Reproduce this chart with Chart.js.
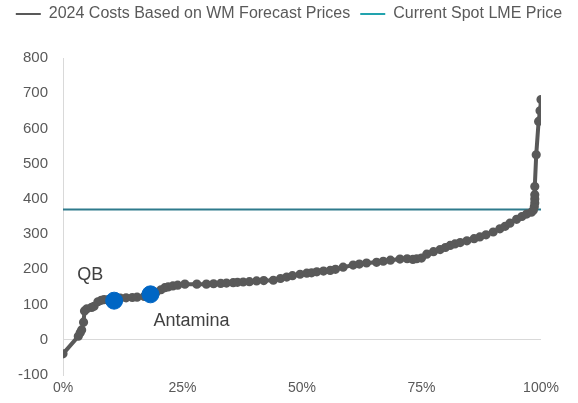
<!DOCTYPE html>
<html>
<head>
<meta charset="utf-8">
<script src="https://cdn.jsdelivr.net/npm/chart.js@4.4.1/dist/chart.umd.min.js"></script>
<style>
  html, body { margin: 0; padding: 0; background: #ffffff; }
  #wrap { width: 578px; height: 403px; }
</style>
</head>
<body>
<div id="wrap"><canvas id="chart" width="578" height="403"></canvas></div>
<script>
// Cost curve: cumulative share of production (%) against 2024 cost
const cumulativeShare = [
  0, 3.2, 3.6, 3.9, 4.3, 4.5, 5.0, 6.0, 6.5, 7.3, 8.0, 8.6, 9.5, 10.7, 12.0, 13.2, 14.5, 15.5, 17.0, 18.3,
  19.5, 20.5, 21.3, 22.0, 23.0, 24.0, 25.5, 28.0, 30.0, 31.5, 33.0, 34.2, 35.6, 36.5, 37.7, 39.0, 40.5, 42.0,
  44.0, 45.5, 46.8, 48.0, 49.6, 51.0, 52.0, 53.1, 54.5, 55.9, 57.0, 58.6, 60.7, 62.0, 63.5, 65.6, 67.0, 68.5,
  70.5, 72.0, 73.2, 74.0, 75.0, 76.1, 77.5, 78.9, 80.0, 81.0, 82.0, 83.1, 84.5, 86.0, 87.2, 88.5, 90.0, 91.4,
  92.5, 93.5, 94.9, 96.0, 97.0, 98.0, 98.4, 98.6, 98.7, 98.7, 98.7, 98.7, 99.0, 99.5, 99.8, 100
];
const costs = [
  -40, 10, 20, 28, 50, 82, 88, 92, 95, 108, 112, 114, 114, 111, 118, 119, 120, 121, 123, 129,
  135, 142, 148, 150, 153, 155, 158, 158, 158, 159, 160, 161, 162, 163, 164, 165, 167, 168,
  169, 174, 178, 182, 186, 189, 190, 193, 195, 197, 200, 206, 212, 215, 218, 220, 223, 226,
  229, 230, 228, 230, 232, 243, 250, 256, 262, 268, 272, 276, 281, 287, 292, 298, 306, 315,
  322, 331, 342, 350, 357, 362, 368, 378, 388, 400, 412, 435, 525, 620, 650, 682
];

// Current spot LME price
const spotPrice = 370;

// Highlighted operations
const mineNames = ['QB', 'Antamina'];
const mineShare = [10.7, 18.3];
const mineCost = [111, 129];

// Axis ranges and tick labels
const yMin = -100, yMax = 800, yStep = 100;
const xTickValues = [0, 25, 50, 75, 100];
const xTickLabels = ['0%', '25%', '50%', '75%', '100%'];

const curveColor = '#595959';
const spotColor = '#2E7A8C';
const spotLegendColor = '#22A3AE';
const mineColor = '#0066C4';
const textColor = '#595959';
const axisColor = '#D9D9D9';
const fontFamily = '"Liberation Sans", Arial, sans-serif';

const curvePoints = cumulativeShare.map((x, i) => ({ x: x, y: costs[i] }));
const spotPoints = [{ x: 0, y: spotPrice }, { x: 100, y: spotPrice }];
const minePoints = mineShare.map((x, i) => ({ x: x, y: mineCost[i], name: mineNames[i] }));

// Writes the operation names next to their markers
const mineLabels = {
  id: 'mineLabels',
  afterDatasetsDraw(chart) {
    const meta = chart.getDatasetMeta(2);
    const ctx = chart.ctx;
    ctx.save();
    ctx.font = '18px ' + fontFamily;
    ctx.fillStyle = '#404040';
    ctx.textBaseline = 'middle';
    meta.data.forEach((pt, i) => {
      const name = minePoints[i].name;
      if (i === 0) {
        ctx.textAlign = 'center';
        ctx.fillText(name, pt.x - 24, pt.y - 26);
      } else {
        ctx.textAlign = 'left';
        ctx.fillText(name, pt.x + 3, pt.y + 27);
      }
    });
    ctx.restore();
  }
};

// Fixed legend band above the plot
const legendBand = {
  id: 'legendBand',
  beforeInit(chart) {
    const legend = chart.legend;
    if (!legend) return;
    const fit = legend.fit;
    legend.fit = function () {
      fit.call(this);
      this.height = 62;
    };
  }
};

new Chart(document.getElementById('chart'), {
  type: 'scatter',
  data: {
    datasets: [
      {
        label: '2024 Costs Based on WM Forecast Prices',
        data: curvePoints,
        showLine: true,
        borderColor: curveColor,
        backgroundColor: curveColor,
        borderWidth: 4,
        pointRadius: 2.6,
        pointHoverRadius: 2.6,
        tension: 0,
        order: 2
      },
      {
        label: 'Current Spot LME Price',
        data: spotPoints,
        showLine: true,
        borderColor: spotColor,
        backgroundColor: spotColor,
        borderWidth: 2,
        pointRadius: 0,
        order: 3
      },
      {
        label: 'mines',
        data: minePoints,
        showLine: false,
        backgroundColor: mineColor,
        borderColor: mineColor,
        pointRadius: 8.5,
        pointHoverRadius: 8.5,
        order: 1
      }
    ]
  },
  options: {
    responsive: false,
    animation: false,
    devicePixelRatio: 1,
    layout: { padding: { left: 0, right: 0, top: -4, bottom: 0 } },
    plugins: {
      tooltip: { enabled: false },
      legend: {
        display: true,
        position: 'top',
        align: 'center',
        labels: {
          font: { family: fontFamily, size: 16 },
          color: textColor,
          boxWidth: 25,
          boxHeight: 2,
          padding: 10,
          filter: (item) => item.datasetIndex !== 2,
          generateLabels(chart) {
            return chart.data.datasets.slice(0, 2).map((ds, i) => ({
              text: ds.label,
              fillStyle: i === 0 ? curveColor : spotLegendColor,
              strokeStyle: i === 0 ? curveColor : spotLegendColor,
              lineWidth: 0,
              fontColor: textColor,
              hidden: false,
              datasetIndex: i
            }));
          }
        }
      }
    },
    scales: {
      x: {
        type: 'linear',
        min: 0,
        max: 100,
        afterBuildTicks(scale) {
          scale.ticks = xTickValues.map(v => ({ value: v }));
        },
        afterFit(scale) {
          scale.height = 28;
          scale.paddingRight = 37;
        },
        ticks: {
          font: { family: fontFamily, size: 14 },
          color: textColor,
          padding: 5,
          maxRotation: 0,
          callback: (v) => xTickLabels[xTickValues.indexOf(v)]
        },
        grid: { display: false, drawTicks: false },
        border: { display: false }
      },
      y: {
        type: 'linear',
        min: yMin,
        max: yMax,
        afterFit(scale) { scale.width = 63; },
        ticks: {
          stepSize: yStep,
          font: { family: fontFamily, size: 15 },
          color: textColor,
          padding: 15
        },
        grid: {
          drawTicks: false,
          lineWidth: 1,
          color: (c) => (c.tick && c.tick.value === 0 ? axisColor : 'rgba(0,0,0,0)')
        },
        border: { display: true, color: axisColor, width: 1 }
      }
    }
  },
  plugins: [legendBand, mineLabels]
});
</script>
</body>
</html>
